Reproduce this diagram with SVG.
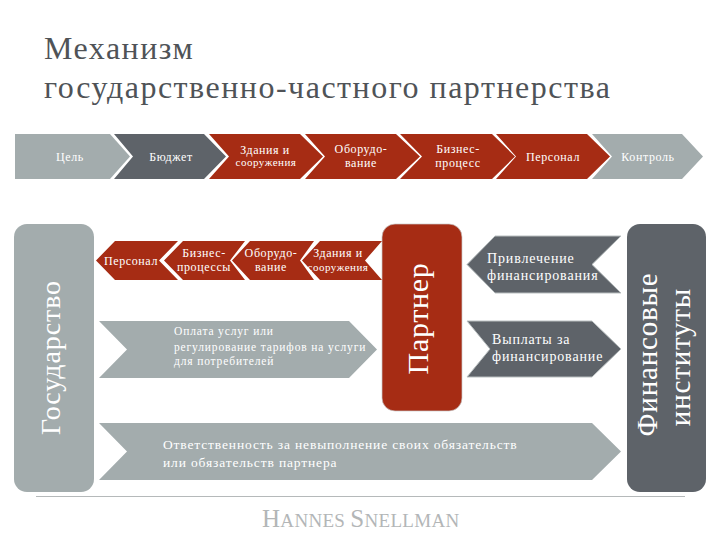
<svg xmlns="http://www.w3.org/2000/svg" width="720" height="540" viewBox="0 0 720 540">
<style>
text{font-family:"Liberation Serif","Times New Roman",serif;fill:#fff}
.t{font-size:32px;fill:#4f5357;letter-spacing:1.5px}
.s{font-size:12px;text-anchor:middle;letter-spacing:.6px}
.x{font-size:11px;text-anchor:middle;letter-spacing:.5px}
.p{font-size:11.500px;letter-spacing:.85px}
.m{font-size:14px;letter-spacing:.85px}
.w{font-size:13.500px;letter-spacing:.85px}
.v{font-size:29px;text-anchor:middle;letter-spacing:.8px}
.g{fill:#a3acad}.d{fill:#5e6369}.r{fill:#a62c14}
.o{stroke:#b9bfc0;stroke-width:1}
</style>
<rect width="720" height="540" fill="#fff"/>
<g id="title"><text class="t" x="44" y="59">Механизм</text><text class="t" x="44" y="98">государственно-частного партнерства</text></g>
<g id="connectors">
<line x1="36" y1="496.500" x2="685" y2="496.500" stroke="#b5b9ba" stroke-width="1"/>
</g>
<g id="top-tsel"><path class="g" d="M15 134H110L130 156.500L110 179H15Z"/><text class="s" x="70" y="161">Цель</text></g>
<g id="top-byudzhet"><path class="d" d="M114 134H204L226 156.500L204 179H114L133 156.500Z"/><text class="s" x="171" y="161">Бюджет</text></g>
<g id="top-zdaniya"><path class="r" d="M209 134H300L323 156.500L300 179H209L229 156.500Z"/><text class="s" x="265" y="154">Здания и</text><text class="x" x="266" y="166">сооружения</text></g>
<g id="top-oborudovanie"><path class="r" d="M305 134H396L420 156.500L396 179H305L325 156.500Z"/><text class="s" x="361" y="153">Оборудо-</text><text class="s" x="361" y="167">вание</text></g>
<g id="top-biznes"><path class="r" d="M400 134H492L515 156.500L492 179H400L422 156.500Z"/><text class="s" x="458" y="153">Бизнес-</text><text class="s" x="458" y="167">процесс</text></g>
<g id="top-personal"><path class="r" d="M496 134H587L610 156.500L587 179H496L516 156.500Z"/><text class="s" x="553" y="161">Персонал</text></g>
<g id="top-kontrol"><path class="g" d="M592 134H682L703 156.500L682 179H592L612 156.500Z"/><text class="s" x="648" y="161">Контроль</text></g>
<g id="gosudarstvo"><rect class="g" x="14" y="224" width="80" height="268" rx="13"/><text class="v" transform="translate(60 357.500) rotate(-90)" style="font-size:28px;letter-spacing:.9px">Государство</text></g>
<g id="partner"><rect class="r" x="382" y="224" width="80" height="187" rx="13" stroke="#c9c9c9" stroke-width=".7"/><text class="v" transform="translate(428 318.500) rotate(-90)" style="font-size:30px;letter-spacing:.7px">Партнер</text></g>
<g id="finance"><rect class="d" x="627" y="224" width="79" height="268" rx="13"/><text class="v" transform="translate(657 354.500) rotate(-90)">Финансовые</text><text class="v" transform="translate(690 357) rotate(-90)">институты</text></g>
<g id="low-personal"><path class="r" d="M96 260.500L115 241H178L159 260.500L178 280H115Z"/><text class="s" x="131" y="265">Персонал</text></g>
<g id="low-biznes"><path class="r" d="M164 260.500L183 241H245L230 260.500L245 280H183Z"/><text class="s" x="204" y="257">Бизнес-</text><text class="s" x="204" y="271">процессы</text></g>
<g id="low-oborudovanie"><path class="r" d="M232 260.500L250 241H314L300 260.500L314 280H250Z"/><text class="s" x="271" y="257">Оборудо-</text><text class="s" x="271" y="271">вание</text></g>
<g id="low-zdaniya"><path class="r" d="M302 260.500L320 241H382L365 260.500L382 280H320Z"/><text class="s" x="338" y="257">Здания и</text><text class="x" x="338" y="271">сооружения</text></g>
<g id="oplata"><path class="g" d="M99 321H349L377 349.500L349 378H99L127 349.500Z"/><text class="p" x="174" y="335">Оплата услуг или</text><text class="p" x="174" y="351">регулирование тарифов на услуги</text><text class="p" x="174" y="365">для потребителей</text></g>
<g id="privlechenie"><path class="d o" d="M467 264.500L495 236H621L592 264.500L621 293H495Z"/><text class="m" x="487" y="263">Привлечение</text><text class="m" x="487" y="280">финансирования</text></g>
<g id="vyplaty"><path class="d o" d="M467 321H592L621 349L592 377H467L490 349Z"/><text class="m" x="492" y="344">Выплаты за</text><text class="m" x="492" y="361">финансирование</text></g>
<g id="otvetstvennost"><path class="g" d="M99 423H592L621 451.500L592 480H99L127 451.500Z"/><text class="w" x="163" y="449">Ответственность за невыполнение своих обязательств</text><text class="w" x="163" y="467">или обязательств партнера</text></g>
<g id="logo"><text x="262" y="527" style="font-size:19px;fill:#b3b6b7;letter-spacing:.3px"><tspan style="font-size:25px">H</tspan>ANNES <tspan style="font-size:25px">S</tspan>NELLMAN</text></g>
</svg>
